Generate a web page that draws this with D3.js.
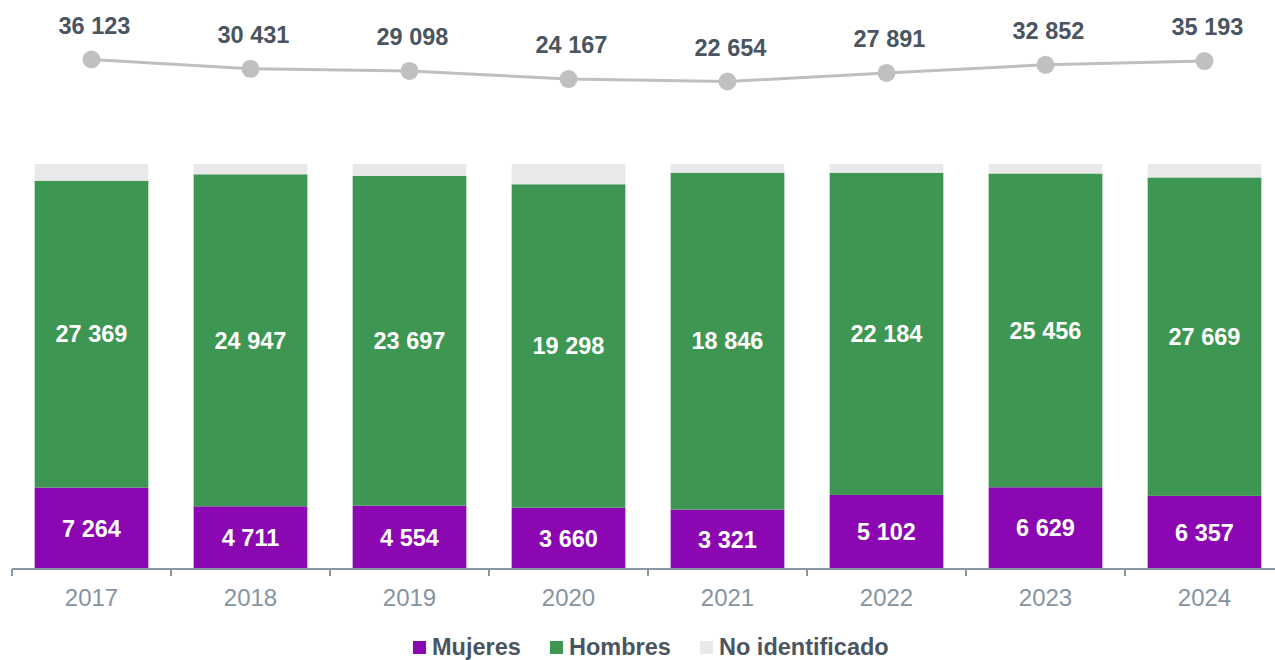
<!DOCTYPE html>
<html>
<head>
<meta charset="utf-8">
<script src="https://cdn.jsdelivr.net/npm/d3@7"></script>
<style>
  html, body { margin: 0; padding: 0; background: #fff; }
  svg { display: block; font-family: "Liberation Sans", Arial, sans-serif; }
</style>
</head>
<body>
<svg id="chart" width="1275" height="660"></svg>
<script>
const years = ["2017", "2018", "2019", "2020", "2021", "2022", "2023", "2024"];
const mujeres = [7264, 4711, 4554, 3660, 3321, 5102, 6629, 6357];
const hombres = [27369, 24947, 23697, 19298, 18846, 22184, 25456, 27669];
const noIdentificado = [1490, 773, 847, 1209, 487, 605, 767, 1167];
const totales = [36123, 30431, 29098, 24167, 22654, 27891, 32852, 35193];
const seriesNames = ["Mujeres", "Hombres", "No identificado"];
const colors = ["#8a07b1", "#3d9651", "#e9e9e9"];

const svg = d3.select("#chart");
const fmt = d3.formatLocale({ decimal: ",", thousands: " ", grouping: [3], currency: ["", ""] }).format(",d");

const x = d3.scaleBand().domain(years).range([12, 1284]).paddingInner(0.285).paddingOuter(0.1425);
const y = d3.scaleLinear().domain([0, 1]).range([569, 164]);
const yLine = d3.scaleLinear().domain([0, 36123]).range([118.5, 59.5]);

const rows = years.map((yr, i) => ({
  year: yr,
  Mujeres: mujeres[i],
  Hombres: hombres[i],
  "No identificado": noIdentificado[i],
  total: mujeres[i] + hombres[i] + noIdentificado[i]
}));

const stack = d3.stack().keys(seriesNames)
  .value((d, k) => d[k] / d.total);
const stacked = stack(rows);

const g = svg.append("g");
stacked.forEach((layer, li) => {
  g.selectAll(null).data(layer).enter().append("rect")
    .attr("x", d => x(d.data.year))
    .attr("width", x.bandwidth())
    .attr("y", d => y(d[1]))
    .attr("height", d => y(d[0]) - y(d[1]))
    .attr("fill", colors[li]);
});

// segment labels
[0, 1].forEach(li => {
  g.selectAll(null).data(stacked[li]).enter().append("text")
    .attr("x", d => x(d.data.year) + x.bandwidth() / 2)
    .attr("y", d => (y(d[0]) + y(d[1])) / 2)
    .attr("dy", "0.35em")
    .attr("text-anchor", "middle")
    .attr("fill", "#fff")
    .attr("font-weight", "bold")
    .attr("font-size", 23.5)
    .text(d => fmt(d.data[seriesNames[li]]));
});

// x axis
const axis = svg.append("g").attr("transform", "translate(0,569)");
axis.append("line").attr("x1", 12).attr("x2", 1284).attr("y1", 0).attr("y2", 0)
  .attr("stroke", "#8796a2").attr("stroke-width", 2);
const bounds = years.map(yr => x(yr) - x.step() * x.paddingInner() / 2);
axis.selectAll(null).data(bounds).enter().append("line")
  .attr("x1", d => d).attr("x2", d => d).attr("y1", 0).attr("y2", 7)
  .attr("stroke", "#8796a2").attr("stroke-width", 2);
axis.selectAll(null).data(years).enter().append("text")
  .attr("x", d => x(d) + x.bandwidth() / 2)
  .attr("y", 29)
  .attr("dy", "0.35em")
  .attr("text-anchor", "middle")
  .attr("fill", "#8693a0")
  .attr("font-size", 24)
  .text(d => d);

// totals line
const line = d3.line().x((d, i) => x(years[i]) + x.bandwidth() / 2).y(d => yLine(d));
svg.append("path").datum(totales).attr("d", line)
  .attr("fill", "none").attr("stroke", "#bfbfbf").attr("stroke-width", 3);
svg.selectAll(null).data(totales).enter().append("circle")
  .attr("cx", (d, i) => x(years[i]) + x.bandwidth() / 2)
  .attr("cy", d => yLine(d))
  .attr("r", 9)
  .attr("fill", "#c0c0c0");
svg.selectAll(null).data(totales).enter().append("text")
  .attr("x", (d, i) => x(years[i]) + x.bandwidth() / 2 + 3)
  .attr("y", d => yLine(d) - 34)
  .attr("dy", "0.35em")
  .attr("text-anchor", "middle")
  .attr("fill", "#4a5561")
  .attr("font-weight", "bold")
  .attr("font-size", 23.5)
  .text(d => fmt(d));

// legend
const legendX = [413, 550, 700];
const legend = svg.append("g");
seriesNames.forEach((name, i) => {
  legend.append("rect").attr("x", legendX[i]).attr("y", 641).attr("width", 13).attr("height", 13)
    .attr("fill", colors[i]);
  legend.append("text").attr("x", legendX[i] + 19).attr("y", 647).attr("dy", "0.35em")
    .attr("fill", "#4a5561").attr("font-weight", "bold").attr("font-size", 23.5)
    .text(name);
});
</script>
</body>
</html>
